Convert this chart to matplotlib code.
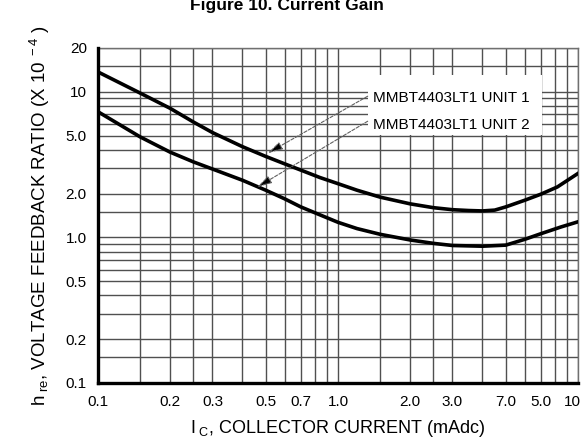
import numpy as np
import matplotlib
matplotlib.use('Agg')
import matplotlib.pyplot as plt
from matplotlib.patches import Rectangle
from matplotlib.transforms import ScaledTranslation

# data
unit1_x = [0.1, 0.15, 0.2, 0.25, 0.3, 0.4, 0.5, 0.6, 0.7, 0.84, 1.0, 1.2, 1.5, 2.0,
           2.5, 3.0, 3.5, 4.0, 4.5, 5.0, 6.0, 7.0, 8.2, 10]
unit1_y = [13.7, 9.8, 7.7, 6.2, 5.25, 4.2, 3.6, 3.2, 2.9, 2.58, 2.34, 2.11, 1.89, 1.7,
           1.6, 1.55, 1.53, 1.52, 1.54, 1.62, 1.8, 1.98, 2.22, 2.75]
unit2_x = [0.1, 0.15, 0.2, 0.25, 0.3, 0.4, 0.5, 0.6, 0.7, 0.84, 1.0, 1.2, 1.5, 2.0,
           2.5, 3.0, 4.0, 5.0, 6.0, 7.0, 8.5, 10]
unit2_y = [7.3, 4.9, 3.85, 3.3, 2.95, 2.47, 2.11, 1.84, 1.62, 1.43, 1.27, 1.15, 1.05, 0.96,
           0.91, 0.88, 0.87, 0.885, 0.97, 1.06, 1.18, 1.28]

series_labels = ['MMBT4403LT1 UNIT 1', 'MMBT4403LT1 UNIT 2']

x_ticks = [0.1, 0.2, 0.3, 0.5, 0.7, 1.0, 2.0, 3.0, 5.0, 7.0, 10]
x_ticklabels = ['0.1', '0.2', '0.3', '0.5', '0.7', '1.0', '2.0', '3.0', '7.0', '5.0', '10']
y_ticks = [0.1, 0.2, 0.5, 1.0, 2.0, 5.0, 10, 20]
y_ticklabels = ['0.1', '0.2', '0.5', '1.0', '2.0', '5.0', '10', '20']

x_grid = [0.15, 0.2, 0.25, 0.3, 0.4, 0.5, 0.6, 0.7, 0.8, 0.9, 1.0,
          1.5, 2.0, 2.5, 3.0, 4.0, 5.0, 6.0, 7.0, 8.0, 9.0, 10]
y_grid = [0.15, 0.2, 0.3, 0.4, 0.5, 0.6, 0.7, 0.8, 0.9, 1.0,
          1.5, 2.0, 3.0, 4.0, 5.0, 6.0, 7.0, 8.0, 9.0, 10, 15, 20]

plt.rcParams['font.family'] = ['Liberation Sans', 'DejaVu Sans']
plt.rcParams['mathtext.fontset'] = 'custom'
plt.rcParams['mathtext.rm'] = 'Liberation Sans'
plt.rcParams['mathtext.it'] = 'Liberation Sans'

fig = plt.figure(figsize=(5.83, 4.44), dpi=100)
ax = fig.add_axes([0.168, 0.1374, 0.8234, 0.7545])

ax.set_xscale('log')
ax.set_yscale('log')
ax.set_xlim(0.1, 10)
ax.set_ylim(0.1, 20)

ax.set_xticks(x_ticks)
ax.set_xticklabels(x_ticklabels)
ax.set_yticks(y_ticks)
ax.set_yticklabels(y_ticklabels)
ax.set_xticks(x_grid, minor=True)
ax.set_yticks(y_grid, minor=True)
ax.xaxis.set_minor_formatter(plt.NullFormatter())
ax.yaxis.set_minor_formatter(plt.NullFormatter())
ax.tick_params(which='both', length=0, labelsize=11)
ax.tick_params(axis='x', pad=9)
ax.tick_params(axis='y', pad=8)

# keep the "10" at the right edge inside the picture
last = ax.get_xticklabels()[-1]
last.set_transform(last.get_transform() + ScaledTranslation(-4 / 72, 0, fig.dpi_scale_trans))

ax.set_axisbelow(True)
ax.grid(which='both', color='#505050', linewidth=1.0)

for s in ['top', 'right']:
    ax.spines[s].set_color('#707070')
    ax.spines[s].set_linewidth(1.0)
for s in ['left', 'bottom']:
    ax.spines[s].set_color('black')
    ax.spines[s].set_linewidth(2.4)
    ax.spines[s].set_zorder(5)

ax.plot(unit1_x, unit1_y, color='black', linewidth=2.6, zorder=3,
        solid_joinstyle='round')
ax.plot(unit2_x, unit2_y, color='black', linewidth=2.6, zorder=3,
        solid_joinstyle='round')

# white box behind the labels
ax.add_patch(Rectangle((0.5625, 0.74), 0.3625, 0.18, transform=ax.transAxes,
                       facecolor='white', edgecolor='none', zorder=1.5))

ax.text(1.40, 9.0, series_labels[0], fontsize=11, va='center', ha='left', zorder=4)
ax.text(1.40, 5.9, series_labels[1], fontsize=11, va='center', ha='left', zorder=4)

arrow_kw = dict(arrowstyle='-|>,head_length=0.75,head_width=0.2', edgecolor='#606060',
                facecolor='black', lw=0.8, linestyle=(0, (3, 1.5)),
                mutation_scale=12, shrinkA=0, shrinkB=0)
ax.annotate('', xy=(0.51, 3.79), xytext=(1.33, 9.33), arrowprops=arrow_kw, zorder=4)
ax.annotate('', xy=(0.46, 2.21), xytext=(1.33, 6.28), arrowprops=arrow_kw, zorder=4)

ax.set_xlabel(r'I$_{\rm \ C}$, COLLECTOR CURRENT (mAdc)', fontsize=13, labelpad=6)
ax.set_ylabel(r'h$_{\rm \ re}$, VOLTAGE FEEDBACK RATIO (X 10$^{\rm \ -4}$ )',
              fontsize=13.5, labelpad=10)

fig.text(0.492, 0.9775, 'Figure 10. Current Gain', fontsize=12.5, fontweight='bold',
         ha='center', va='baseline')

fig.savefig('out.png', dpi=100)
plt.close('all')
